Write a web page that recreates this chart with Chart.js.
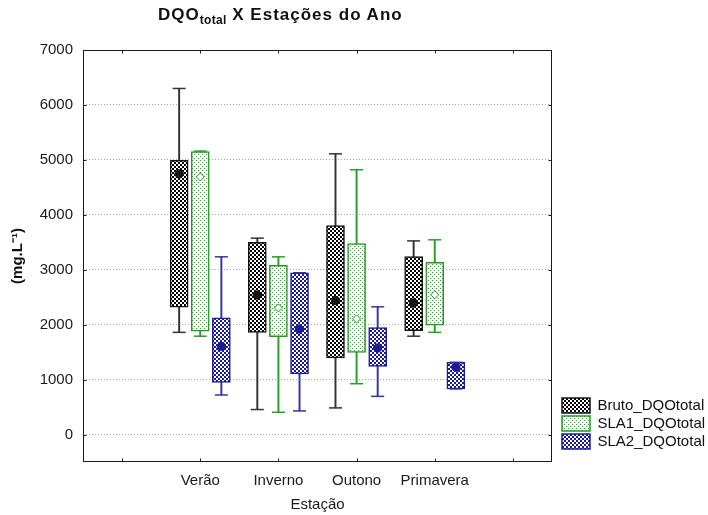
<!DOCTYPE html>
<html><head><meta charset="utf-8">
<script src="https://cdn.jsdelivr.net/npm/chart.js@4.4.1/dist/chart.umd.min.js"></script>
<style>
html,body{margin:0;padding:0;background:#fff;}
#wrap{position:relative;width:708px;height:515px;}
#title{position:absolute;left:158px;top:5px;font:bold 17px "Liberation Sans",Arial,sans-serif;color:#111;white-space:nowrap;letter-spacing:1px}
#title sub{font-size:12px;vertical-align:-4px;line-height:0;letter-spacing:0.3px}
canvas{position:absolute;left:0;top:0}
</style></head><body>
<div id="wrap"><canvas id="c" width="708" height="515"></canvas><div id="title">DQO<sub>total</sub> X Estações do Ano</div></div>
<script>
// ---- data ----
const categories = ['Verão', 'Inverno', 'Outono', 'Primavera'];
const xTickLabels = ['', 'Verão', 'Inverno', 'Outono', 'Primavera', ''];
const yTicks = [0, 1000, 2000, 3000, 4000, 5000, 6000, 7000];
const seriesNames = ['Bruto_DQOtotal', 'SLA1_DQOtotal', 'SLA2_DQOtotal'];

const brutoMin  = [1860,  455,  485, 1790];
const brutoQ1   = [2320, 1860, 1395, 1890];
const brutoQ3   = [4990, 3500, 3805, 3240];
const brutoMax  = [6300, 3575, 5110, 3525];
const brutoMean = [4745, 2540, 2440, 2395];

const sla1Min  = [1790,  405,  925, 1860];
const sla1Q1   = [1880, 1780, 1495, 1990];
const sla1Q3   = [5150, 3080, 3475, 3135];
const sla1Max  = [5160, 3235, 4820, 3545];
const sla1Mean = [4690, 2305, 2105, 2545];

const sla2Min  = [ 720,  430,  695,  830];
const sla2Q1   = [ 950, 1105, 1240,  830];
const sla2Q3   = [2125, 2945, 1945, 1315];
const sla2Max  = [3235, 2945, 2325, 1315];
const sla2Mean = [1605, 1920, 1575, 1225];

// ---- styling ----
const seriesOffset = [-0.27, 0, 0.27];
const lineColors = ['#151515', '#1f9a1f', '#1c1c94'];
const whiskerColors = ['#333333', '#2a9e2a', '#3434a6'];

function makePattern(kind) {
  const c = document.createElement('canvas');
  c.width = 4; c.height = 4;
  const g = c.getContext('2d');
  g.fillStyle = '#ffffff'; g.fillRect(0, 0, 4, 4);
  if (kind === 0 || kind === 2) {
    g.fillStyle = kind === 0 ? '#000000' : '#1a1a9a';
    g.fillRect(0, 0, 2, 2); g.fillRect(2, 2, 2, 2);
  } else {
    g.fillStyle = '#2aa82a';
    g.fillRect(0, 0, 1, 1); g.fillRect(2, 2, 1, 1);
  }
  return g.createPattern(c, 'repeat');
}

const stats = [
  {min: brutoMin, q1: brutoQ1, q3: brutoQ3, max: brutoMax, mean: brutoMean},
  {min: sla1Min, q1: sla1Q1, q3: sla1Q3, max: sla1Max, mean: sla1Mean},
  {min: sla2Min, q1: sla2Q1, q3: sla2Q3, max: sla2Max, mean: sla2Mean}
];

const datasets = [];
stats.forEach((s, k) => {
  const xs = categories.map((c, i) => i + 1 + seriesOffset[k]);
  datasets.push({
    type: 'bar', label: seriesNames[k], role: 'box', order: 2,
    data: xs.map((x, i) => ({x: x, y: [s.q1[i], s.q3[i]]})),
    backgroundColor: makePattern(k), borderColor: lineColors[k], borderWidth: 1.5,
    borderSkipped: false, barThickness: 18, grouped: false
  });
  datasets.push({
    type: 'bar', label: seriesNames[k] + ' whisker', role: 'whisker', order: 3,
    data: xs.map((x, i) => ({x: x, y: [s.min[i], s.max[i]]})),
    backgroundColor: whiskerColors[k], borderWidth: 0, barThickness: 1.3, grouped: false
  });
  const caps = [];
  xs.forEach((x, i) => { caps.push({x: x, y: s.min[i]}); caps.push({x: x, y: s.max[i]}); });
  datasets.push({
    type: 'scatter', label: seriesNames[k] + ' caps', role: 'cap', order: 1,
    data: caps, pointStyle: 'line', pointRadius: 6.5, borderColor: whiskerColors[k],
    borderWidth: 1.5, pointHoverRadius: 6.5
  });
  datasets.push({
    type: 'scatter', label: seriesNames[k] + ' mean', role: 'mean', order: 0,
    data: xs.map((x, i) => ({x: x, y: s.mean[i]})),
    pointStyle: k === 1 ? 'rectRot' : 'circle',
    pointRadius: k === 1 ? 4 : 4.2,
    backgroundColor: k === 1 ? '#ffffff' : lineColors[k],
    borderColor: lineColors[k], borderWidth: 1
  });
});

const framePlugin = {
  id: 'frame',
  afterDatasetsDraw(chart) {
    const {ctx, chartArea: a, scales: {x, y}} = chart;
    ctx.save();
    ctx.strokeStyle = '#1a1a1a';
    ctx.lineWidth = 1;
    const L = Math.round(a.left) + 0.5, R = Math.round(a.right) - 0.5;
    const T = Math.round(a.top) + 0.5, B = Math.round(a.bottom) - 0.5;
    ctx.strokeRect(L, T, R - L, B - T);
    ctx.beginPath();
    yTicks.forEach(v => {
      const py = Math.round(y.getPixelForValue(v)) + 0.5;
      ctx.moveTo(L, py); ctx.lineTo(L + 3, py);
      ctx.moveTo(R, py); ctx.lineTo(R - 3, py);
    });
    xTickLabels.forEach((t, i) => {
      const px = Math.round(x.getPixelForValue(i)) + 0.5;
      ctx.moveTo(px, B); ctx.lineTo(px, B - 3);
      ctx.moveTo(px, T); ctx.lineTo(px, T + 3);
    });
    ctx.stroke();
    ctx.restore();
  }
};

const legendShift = {
  id: 'legendShift',
  afterLayout(chart) {
    const l = chart.legend;
    if (!l) return;
    l.left += 7; l.right += 7;
    l.top -= 63; l.bottom -= 63;
  }
};

const font = '"Liberation Sans", Arial, sans-serif';

new Chart(document.getElementById('c'), {
  type: 'bar',
  data: {datasets: datasets},
  options: {
    responsive: false,
    animation: false,
    events: [],
    layout: {padding: {top: 50, left: 5, right: 0, bottom: 0}},
    plugins: {
      title: {display: false},
      tooltip: {enabled: false},
      legend: {
        position: 'right', align: 'end', maxWidth: 156,
        labels: {
          boxWidth: 28, boxHeight: 15, padding: 3,
          color: '#111', font: {family: font, size: 15},
          filter: (item, data) => data.datasets[item.datasetIndex].role === 'box'
        }
      }
    },
    scales: {
      x: {
        type: 'linear', min: -0.5, max: 5.5, offset: false,
        afterBuildTicks: s => { s.ticks = xTickLabels.map((t, i) => ({value: i})); },
        afterFit: s => { s.height = 53; },
        ticks: {
          callback: v => xTickLabels[v] ?? '',
          color: '#1a1a1a', font: {family: font, size: 15}, padding: 10, maxRotation: 0, autoSkip: false
        },
        grid: {display: false, drawTicks: false},
        border: {display: false},
        title: {display: true, text: 'Estação', color: '#1a1a1a', font: {family: font, size: 15}, padding: {top: 0, bottom: 1}}
      },
      y: {
        type: 'linear', min: -500, max: 7000,
        afterBuildTicks: s => { s.ticks = yTicks.map(v => ({value: v})); },
        afterFit: s => { s.width = 78; },
        ticks: {callback: v => String(v), color: '#1a1a1a', font: {family: font, size: 15}, padding: 10},
        grid: {color: '#a8a8a8', drawTicks: false, lineWidth: 1},
        border: {display: false, dash: [1, 2]},
        title: {display: true, text: '(mg.L⁻¹)', color: '#111', font: {family: font, size: 15, weight: 'bold'}, padding: {top: 4, bottom: 4}}
      }
    }
  },
  plugins: [framePlugin, legendShift]
});
</script>
</body></html>
